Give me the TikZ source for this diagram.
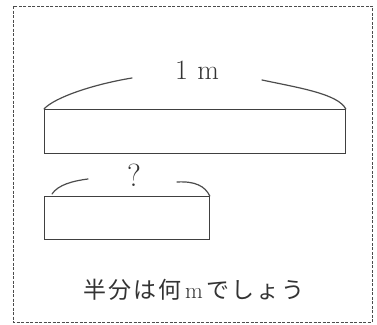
\documentclass[tikz,border=0pt]{standalone}
\usepackage{fontspec}
\newfontfamily\cjk{Noto Sans CJK JP}
\begin{document}
\begin{tikzpicture}[x=1pt,y=-1pt,
  bar/.style={draw=black!75,line width=0.8pt},
  brace/.style={draw=black!70,line width=1.2pt,line cap=round},
  frame/.style={draw=black!70,line width=0.6pt,dash pattern=on 3pt off 1.5pt},
  lbl/.style={text=black!80,inner sep=0pt}]
\useasboundingbox (0,0) rectangle (377,324);
\draw[frame] (13,6) rectangle (372,322);
\node[bar,minimum width=301pt,minimum height=44pt,anchor=north west,inner sep=0pt] (big) at (44,109) {};
\node[lbl,font=\fontsize{28}{28}\selectfont] (onem) at (197,70) {1\,\,m};
\coordinate (bl) at (132,78);
\coordinate (br) at (262,80);
\draw[brace] (big.north west) .. controls (55,97) and (95,84) .. (bl);
\draw[brace] (br) .. controls (300,88) and (338,94) .. (big.north east);
\node[bar,minimum width=165pt,minimum height=43pt,anchor=north west,inner sep=0pt] (small) at (44,196) {};
\node[lbl,font=\fontsize{32}{32}\selectfont] (q) at (134,175) {?};
\coordinate (sl) at (88,179);
\coordinate (sr) at (177,182);
\draw[brace] (52,194) .. controls (58,185) and (72,181) .. (sl);
\draw[brace] (sr) .. controls (195,181) and (205,186) .. (small.north east);
\node[lbl,font=\cjk\fontsize{23}{23}\selectfont] (txt) at (194,290) {半\kern2pt 分\kern2pt は\kern2pt 何\,{\rmfamily m}\,で\kern2pt し\kern2pt ょ\kern2pt う};
\end{tikzpicture}
\end{document}
